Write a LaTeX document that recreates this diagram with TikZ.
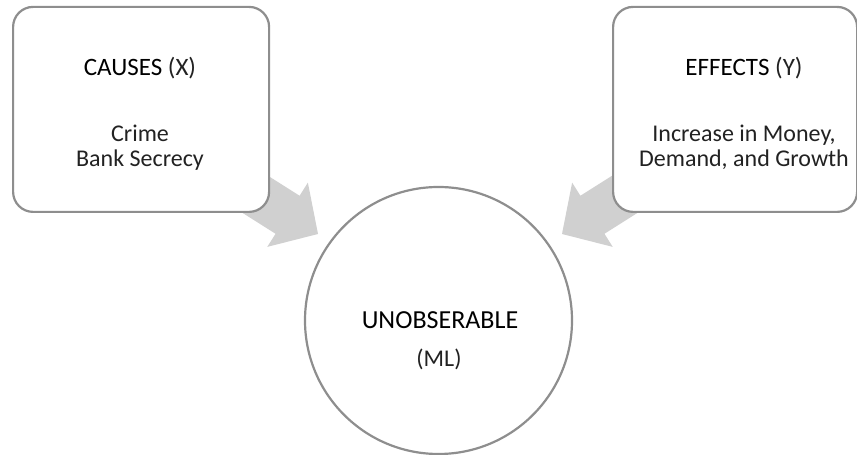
\documentclass[tikz,border=0pt]{standalone}
\usepackage{fontspec}
\setmainfont{Carlito}
\definecolor{framegray}{HTML}{8E8E8E}
\definecolor{arrowgray}{HTML}{D0D0D0}
\definecolor{lighttext}{HTML}{222222}
\begin{document}
\begin{tikzpicture}[x=1pt,y=1pt,
  frame/.style={draw=framegray, line width=2.2pt, fill=white, inner sep=0pt},
  boxstyle/.style={frame, rounded corners=20pt, minimum height=205pt, anchor=south west},
  blockarrow/.style={fill=arrowgray},
  captext/.style={anchor=base, inner sep=0pt, font=\fontsize{25}{30}\selectfont},
  bodytext/.style={anchor=base, inner sep=0pt, font=\fontsize{24}{29}\selectfont, text=lighttext},
  bigtext/.style={anchor=base, inner sep=0pt, font=\fontsize{26}{31}\selectfont},
]
\useasboundingbox (0,0) rectangle (857,455);

% arrow tips
\coordinate (tipL) at (318,221);
\coordinate (tipR) at (562,221);

% block arrows (drawn first, tails hidden under the boxes)
\begin{scope}[shift={(tipL)}, rotate=-32.3]
  \fill[blockarrow] (0,0) -- (-36,38) -- (-36,22.5) -- (-160,22.5) -- (-160,-22.5) -- (-36,-22.5) -- (-36,-38) -- cycle;
\end{scope}
\begin{scope}[shift={(tipR)}, rotate=-147.7]
  \fill[blockarrow] (0,0) -- (-36,38) -- (-36,22.5) -- (-160,22.5) -- (-160,-22.5) -- (-36,-22.5) -- (-36,-38) -- cycle;
\end{scope}

% boxes
\node[boxstyle, minimum width=256pt] (causes) at (12,242) {};
\node[boxstyle, minimum width=244pt] (effects) at (612,242) {};

% circle
\node[frame, circle, minimum size=267pt] (ml) at (438.5,134.5) {};

% texts
\node[captext] (causesT) at (140,379) {CAUSES \color{lighttext}(X)};
\node[bodytext] (causesA) at (140,313) {Crime};
\node[bodytext] (causesB) at (140,288) {Bank Secrecy};

\node[captext] (effectsT) at (744,379) {EFFECTS \color{lighttext}(Y)};
\node[bodytext] (effectsA) at (744,313) {Increase in Money,};
\node[bodytext] (effectsB) at (744,288) {Demand, and Growth};

\node[bigtext] (mlT) at (440,126) {UNOBSERABLE};
\node[bodytext] (mlB) at (439,88) {(ML)};
\end{tikzpicture}
\end{document}
